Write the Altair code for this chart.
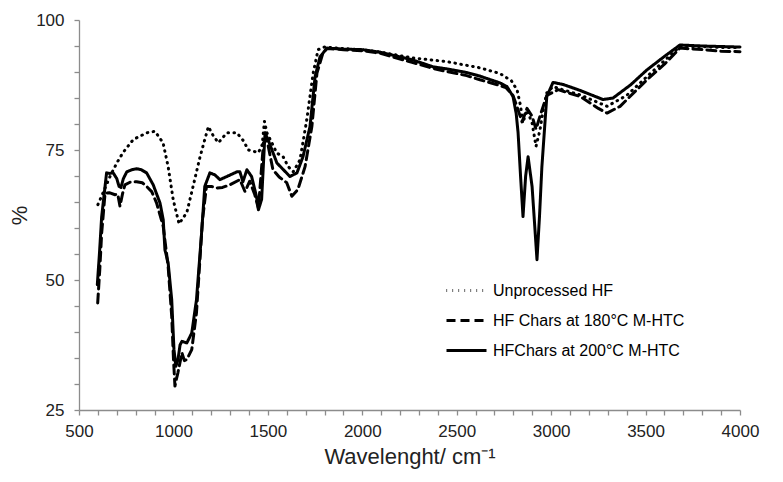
import altair as alt
import pandas as pd

series_names = ["Unprocessed HF", "HF Chars at 180°C M-HTC", "HFChars at 200°C M-HTC"]

unproc_wn = [600, 630, 664, 700, 733, 787, 858, 902, 945, 972, 999, 1030, 1071, 1104, 1141, 1185, 1210, 1238, 1283, 1336, 1370, 1397, 1450, 1470, 1482, 1495, 1548, 1581, 1608, 1634, 1670, 1706, 1740, 1766, 1800, 1900, 2000, 2100, 2268, 2447, 2623, 2729, 2790, 2820, 2838, 2850, 2872, 2899, 2920, 2941, 2958, 2977, 3010, 3060, 3153, 3296, 3400, 3507, 3600, 3682, 3800, 3900, 4000]
unproc_val = [64.5, 67, 69.9, 72.5, 74.5, 77, 78.3, 78.6, 76.4, 71.8, 65.4, 60.8, 63, 68, 73.7, 79.5, 77.8, 76.4, 78.3, 78.3, 76.8, 75, 74.5, 76, 80.5, 78.3, 74.4, 73.7, 71.8, 70.8, 73.1, 80.8, 89.8, 94.3, 94.8, 94.5, 94.3, 93.8, 92.7, 92, 90.8, 89.7, 88.3, 86.5, 83.5, 80.2, 82.7, 80.2, 75.7, 78.9, 82.7, 86, 87.2, 86.6, 85.6, 83.4, 85.5, 89.1, 92.2, 94.9, 94.9, 94.7, 94.7]

c180_wn = [599, 610, 620, 638, 660, 691, 705, 717, 730, 743, 770, 805, 835, 858, 885, 911, 946, 972, 991, 1000, 1008, 1016, 1024, 1045, 1058, 1071, 1097, 1122, 1154, 1175, 1200, 1230, 1260, 1299, 1352, 1379, 1404, 1430, 1450, 1477, 1495, 1527, 1560, 1600, 1627, 1659, 1697, 1733, 1760, 1792, 1813, 1900, 2000, 2094, 2200, 2268, 2374, 2447, 2553, 2623, 2729, 2760, 2798, 2825, 2846, 2872, 2899, 2920, 2945, 2977, 3037, 3153, 3250, 3296, 3365, 3507, 3600, 3682, 3800, 3900, 4000]
c180_val = [45.6, 52, 59, 66.7, 66.8, 66.4, 66.5, 64.2, 66.5, 68.3, 68.8, 68.9, 68.7, 68, 67, 64.8, 60.3, 52.6, 43, 35, 29.6, 31, 32.2, 36, 34.5, 34.7, 36.6, 43.7, 61.6, 68, 68, 67.7, 67.8, 68.3, 69.3, 67, 69, 66.5, 63.8, 76.4, 77, 71.2, 69.8, 68.7, 66.1, 67.4, 71.8, 79.5, 89.8, 93.7, 94.5, 94.3, 94.1, 93.6, 92.5, 91.8, 90.7, 90.1, 89.3, 88.5, 87.4, 87.0, 85.5, 82.7, 80.4, 83, 81.5, 79, 82, 85.5, 86.6, 85.3, 83, 82.1, 83.4, 88.5, 91.5, 94.6, 94.3, 94.0, 93.9]

c200_wn = [597, 608, 620, 646, 660, 681, 700, 712, 722, 735, 753, 780, 805, 830, 858, 893, 929, 946, 955, 972, 991, 1003, 1013, 1024, 1035, 1045, 1071, 1097, 1122, 1149, 1166, 1193, 1220, 1246, 1283, 1336, 1352, 1368, 1389, 1414, 1440, 1450, 1467, 1485, 1501, 1548, 1617, 1654, 1686, 1723, 1750, 1776, 1813, 1900, 2000, 2094, 2200, 2268, 2374, 2447, 2553, 2623, 2729, 2766, 2798, 2815, 2825, 2838, 2851, 2865, 2878, 2899, 2912, 2925, 2938, 2951, 2977, 3010, 3063, 3150, 3275, 3328, 3420, 3507, 3600, 3682, 3800, 3900, 4000]
c200_val = [49.1, 55, 62.2, 70.6, 70.5, 70.6, 69.5, 68, 67.8, 69.5, 70.8, 71.2, 71.4, 71.2, 70.6, 68.3, 64.8, 61.6, 55.8, 53.3, 46.2, 36.6, 33.4, 34.7, 37.5, 38.2, 37.9, 39.8, 46.2, 59, 68, 70.6, 70.2, 69.3, 69.9, 70.8, 70.8, 68.9, 71.2, 69.9, 66, 63.5, 65.5, 78.3, 77, 72.5, 69.9, 70.6, 73.7, 79.5, 89.1, 92.9, 94.6, 94.4, 94.3, 93.8, 92.9, 92.3, 91.0, 90.6, 89.9, 89.2, 87.9, 87.2, 85.3, 82, 78.3, 70, 62.2, 70, 73.7, 68, 61, 53.9, 62, 71.8, 85.3, 88, 87.6, 86.5, 84.7, 85, 87.5, 90.4, 93, 95.2, 95, 94.9, 94.8]

x_ticks = list(range(500, 4001, 100))
y_ticks = list(range(25, 101, 5))

rows = []
for name, wn, val in [(series_names[0], unproc_wn, unproc_val),
                      (series_names[1], c180_wn, c180_val),
                      (series_names[2], c200_wn, c200_val)]:
    for i, (a, b) in enumerate(zip(wn, val)):
        rows.append({"series": name, "wn": a, "val": b, "order": i})
df = pd.DataFrame(rows)

FONT = "Liberation Sans"
GRAY = "#8c8c8c"

chart = alt.Chart(df).mark_line(strokeWidth=3, color="black", strokeCap="round", strokeJoin="round").encode(
    x=alt.X("wn:Q", scale=alt.Scale(domain=[500, 4000], nice=False, zero=False),
            axis=alt.Axis(title="Wavelenght/ cm⁻¹", values=x_ticks,
                          labelExpr="datum.value % 500 == 0 ? datum.label : ''",
                          format="d", grid=False, tickSize=5, labelPadding=8,
                          labelFlush=False, titlePadding=7)),
    y=alt.Y("val:Q", scale=alt.Scale(domain=[25, 100], nice=False, zero=False),
            axis=alt.Axis(title="%", values=y_ticks,
                          labelExpr="datum.value % 25 == 0 ? datum.label : ''",
                          grid=False, tickSize=5, labelPadding=10, labelFlush=False,
                          titlePadding=4)),
    strokeDash=alt.StrokeDash("series:N",
        scale=alt.Scale(domain=series_names, range=[[0.6, 5.4], [9, 5], [1, 0]]),
        legend=alt.Legend(title=None, orient="none", legendX=366, legendY=249,
                          symbolType="stroke", symbolSize=1600, symbolStrokeWidth=3,
                          symbolStrokeColor="black", labelFontSize=16, labelFont=FONT,
                          labelColor="black", rowPadding=-1, labelOffset=5,
                          labelLimit=400)),
    detail="series:N",
    order="order:Q",
).properties(
    width=661, height=390,
    autosize=alt.AutoSizeParams(type="none"),
    padding={"left": 71, "top": 12, "right": 35, "bottom": 64},
).configure_view(stroke=None).configure_axis(
    domainColor=GRAY, tickColor=GRAY, labelFont=FONT, titleFont=FONT,
    labelFontSize=17, labelColor="#222", titleColor="#222", titleFontSize=22,
    titleFontWeight="normal", domainWidth=1.3, tickWidth=1.3,
).configure_axisY(titleAngle=270)

chart.save("out.html", embed_options={"renderer": "svg", "actions": False})
